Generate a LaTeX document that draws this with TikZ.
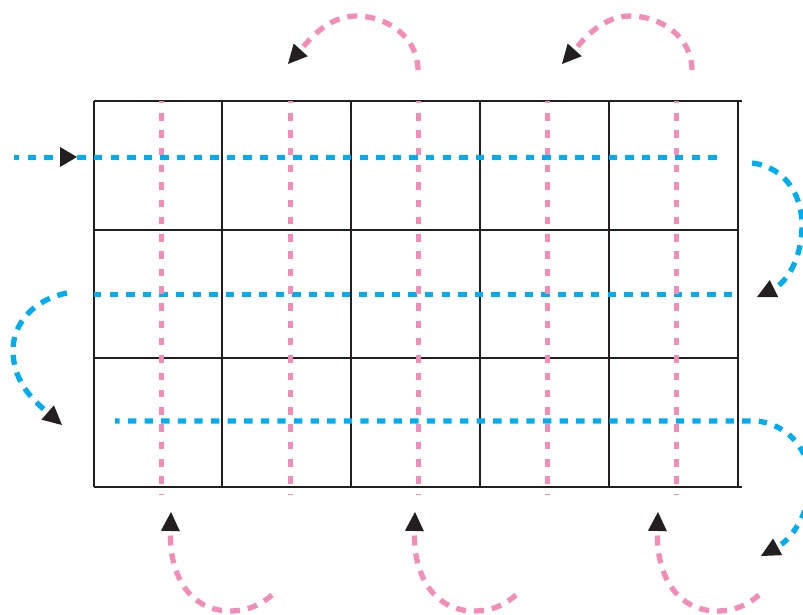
\documentclass[tikz,border=0pt]{standalone}
\usetikzlibrary{arrows.meta}
\definecolor{pk}{RGB}{242,141,186}
\definecolor{cy}{RGB}{0,174,239}
\definecolor{ink}{RGB}{35,31,32}
\begin{document}
\begin{tikzpicture}[x=1pt,y=-1pt,
  gridline/.style={draw=ink, line width=1.5pt},
  pinkv/.style={draw=pk, line width=5pt, dash pattern=on 7.5pt off 9.8pt, dash phase=5.3pt},
  cyanh/.style={draw=cy, line width=5pt, dash pattern=on 8.3pt off 8.3pt},
  turn/.style={line width=5.3pt, dash pattern=on 10pt off 8pt, -{Triangle[length=19pt,width=19pt,color=ink,line width=0pt]}},
  pinkturn/.style={turn, draw=pk},
  cyanturn/.style={turn, draw=cy}]
\useasboundingbox (0,0) rectangle (803,614);
% grid
\draw[gridline] (94,101) -- (742,101);
\draw[gridline] (94,487) -- (742,487);
\foreach \y in {230,358} \draw[gridline] (94,\y) -- (738,\y);
\foreach \x in {94,222,351,480,609,738} \draw[gridline] (\x,101) -- (\x,487);
% cyan rows
\coordinate (c1s) at (14,157);  \coordinate (c1e) at (724,157);
\coordinate (c2s) at (94,294);  \coordinate (c2e) at (740,294);
\coordinate (c3s) at (115,421); \coordinate (c3c) at (757,421);
\draw[cyanh, dash phase=3pt] (c1s) -- (c1e);
\draw[cyanh, dash phase=1pt] (c2s) -- (c2e);
\fill[ink] (60,147) -- (77,157) -- (60,167) -- cycle;
% pink columns
\foreach \x in {161,290,418,547,676} \draw[pinkv] (\x,101) -- (\x,494);
% cyan turns
\coordinate (r1s) at (752,163); \coordinate (r1m) at (802,225); \coordinate (r1e) at (757,297);
\draw[cyanturn] (r1s) .. controls (785,167) and (802,195) .. (r1m) .. controls (802,258) and (787,282) .. (r1e);
\coordinate (l1s) at (67,293); \coordinate (l1m) at (13,350); \coordinate (l1e) at (62,425);
\draw[cyanturn] (l1s) .. controls (32,300) and (13,325) .. (l1m) .. controls (13,385) and (38,404) .. (l1e);
\coordinate (r2m) at (810,485); \coordinate (r2e) at (761,556);
\draw[cyanturn, dash pattern=on 8.3pt off 8.3pt, dash phase=3.6pt] (c3s) -- (c3c) .. controls (790,425) and (811,452) .. (r2m) .. controls (809,515) and (790,540) .. (r2e);
% pink turns top
\coordinate (t1s) at (418,70); \coordinate (t1m) at (356,16); \coordinate (t1e) at (288,64);
\draw[pinkturn] (t1s) .. controls (418,38) and (388,16) .. (t1m) .. controls (326,16) and (306,44) .. (t1e);
\coordinate (t2s) at (692,70); \coordinate (t2m) at (630,16); \coordinate (t2e) at (562,64);
\draw[pinkturn] (t2s) .. controls (692,38) and (662,16) .. (t2m) .. controls (600,16) and (580,44) .. (t2e);
% pink turns bottom
\foreach \d/\n in {0/1,244/2,487/3}{
  \coordinate (b\n s) at (272+\d,595);
  \coordinate (b\n m) at (230+\d,611);
  \coordinate (b\n e) at (171+\d,512);
  \draw[pinkturn] (b\n s) .. controls (258+\d,607) and (245+\d,611) .. (b\n m) .. controls (192+\d,611) and (169+\d,578) .. (b\n e);
}
\end{tikzpicture}
\end{document}
